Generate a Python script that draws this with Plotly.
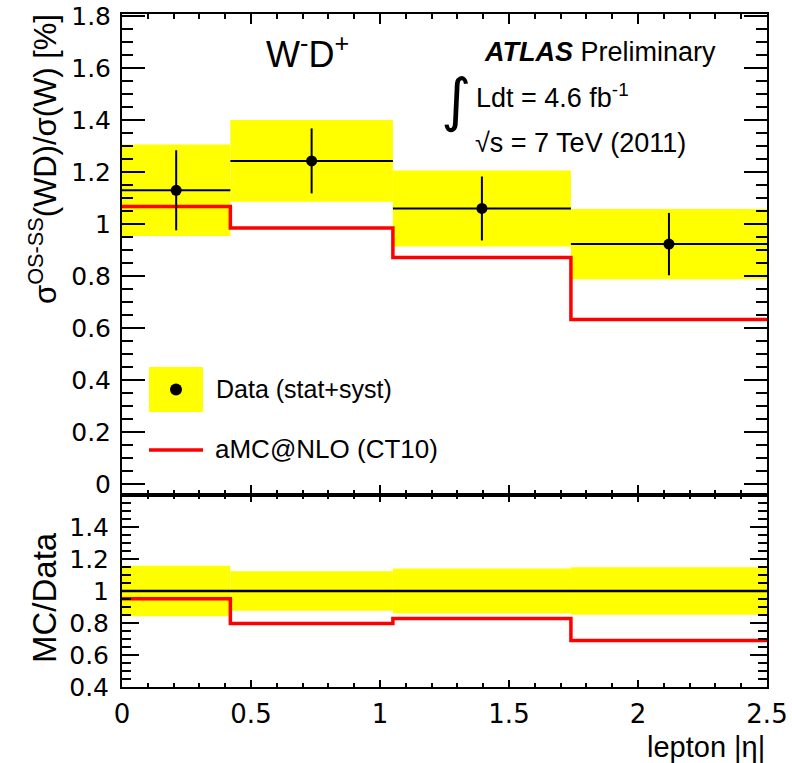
import plotly.graph_objects as go

# ---------------- data ----------------
bin_edges = [0.0, 0.42, 1.05, 1.74, 2.5]
data_vals = [1.13, 1.243, 1.06, 0.923]
data_err = [0.154, 0.125, 0.123, 0.12]       # error bars (stat+syst)
band_err = [0.176, 0.157, 0.146, 0.135]      # yellow band half-height
mc_vals = [1.068, 0.985, 0.871, 0.633]       # aMC@NLO (CT10)
ratio_band_err = [0.158, 0.123, 0.140, 0.148]
ratio_mc = [0.952, 0.797, 0.828, 0.690]

x_tick_vals = [0, 0.5, 1, 1.5, 2, 2.5]
top_y_ticks = [0, 0.2, 0.4, 0.6, 0.8, 1.0, 1.2, 1.4, 1.6, 1.8]
bot_y_ticks = [0.4, 0.6, 0.8, 1.0, 1.2, 1.4]

centers = [(a + b) / 2 for a, b in zip(bin_edges[:-1], bin_edges[1:])]
widths = [b - a for a, b in zip(bin_edges[:-1], bin_edges[1:])]
half_w = [w / 2 for w in widths]

# ---------------- geometry helpers ----------------
W, H = 792, 763
ML, MR, MT, MB = 122, 25, 14, 76
PW, PH = W - ML - MR, H - MT - MB


def px(xp):
    return (xp - ML) / PW


def py(yp):
    return (H - MB - yp) / PH


split = py(495)

YELLOW = "#ffff00"
RED = "#ff0000"
TICKFONT = dict(family="DejaVu Sans", size=25, color="black")
TEXTFONT = "Liberation Sans"

fig = go.Figure()

# ---------------- top panel ----------------
fig.add_trace(go.Bar(
    x=centers, y=[2 * e for e in band_err],
    base=[v - e for v, e in zip(data_vals, band_err)],
    width=widths, marker=dict(color=YELLOW, line=dict(width=0)),
    xaxis="x", yaxis="y", showlegend=False, hoverinfo="skip"))

fig.add_trace(go.Scatter(
    x=bin_edges, y=mc_vals + [mc_vals[-1]], mode="lines",
    line=dict(color=RED, width=3.5, shape="hv"),
    xaxis="x", yaxis="y", showlegend=False))

fig.add_trace(go.Scatter(
    x=centers, y=data_vals, mode="markers",
    marker=dict(color="black", size=11),
    error_y=dict(type="data", array=data_err, color="black", thickness=2, width=0),
    error_x=dict(type="data", array=half_w, color="black", thickness=2, width=0),
    xaxis="x", yaxis="y", showlegend=False))

# ---------------- bottom (ratio) panel ----------------
fig.add_trace(go.Bar(
    x=centers, y=[2 * e for e in ratio_band_err],
    base=[1 - e for e in ratio_band_err],
    width=widths, marker=dict(color=YELLOW, line=dict(width=0)),
    xaxis="x2", yaxis="y2", showlegend=False, hoverinfo="skip"))

fig.add_trace(go.Scatter(
    x=[bin_edges[0], bin_edges[-1]], y=[1, 1], mode="lines",
    line=dict(color="black", width=2.5),
    xaxis="x2", yaxis="y2", showlegend=False))

fig.add_trace(go.Scatter(
    x=bin_edges, y=ratio_mc + [ratio_mc[-1]], mode="lines",
    line=dict(color=RED, width=3.5, shape="hv"),
    xaxis="x2", yaxis="y2", showlegend=False))

axis_common = dict(showline=True, linecolor="black", linewidth=2, mirror="allticks",
                   ticks="inside", tickcolor="black", tickwidth=1.5,
                   showgrid=False, zeroline=False, automargin=False)

fig.update_layout(
    width=W, height=H,
    margin=dict(l=ML, r=MR, t=MT, b=MB, pad=0, autoexpand=False),
    paper_bgcolor="white", plot_bgcolor="white",
    barmode="overlay", showlegend=False,
    xaxis=dict(domain=[0, 1], range=[0, 2.5], anchor="y", tickvals=x_tick_vals,
               showticklabels=False, ticklen=10,
               minor=dict(dtick=0.1, tick0=0, ticklen=5, ticks="inside", tickcolor="black", tickwidth=1.5),
               **axis_common),
    yaxis=dict(domain=[split, 1], range=[-0.042, 1.808], anchor="x", tickvals=top_y_ticks,
               ticktext=["0", "0.2", "0.4", "0.6", "0.8", "1", "1.2", "1.4", "1.6", "1.8"],
               ticklen=23, tickfont=TICKFONT, ticklabelstandoff=4,
               minor=dict(dtick=0.05, tick0=0, ticklen=11, ticks="inside", tickcolor="black", tickwidth=1.5),
               **axis_common),
    xaxis2=dict(domain=[0, 1], range=[0, 2.5], anchor="y2", tickvals=x_tick_vals,
                ticktext=["0", "0.5", "1", "1.5", "2", "2.5"],
                ticklen=7, tickfont=dict(family="DejaVu Sans", size=26, color="black"),
                ticklabelstandoff=3,
                minor=dict(dtick=0.1, tick0=0, ticklen=4, ticks="inside", tickcolor="black", tickwidth=1.5),
                **axis_common),
    yaxis2=dict(domain=[0, split], range=[0.4, 1.6], anchor="x2", tickvals=bot_y_ticks,
                ticktext=["0.4", "0.6", "0.8", "1", "1.2", "1.4"],
                ticklen=17, tickfont=TICKFONT, ticklabelstandoff=6,
                minor=dict(dtick=0.05, tick0=0, ticklen=9, ticks="inside", tickcolor="black", tickwidth=1.5),
                **axis_common),
)

# ---------------- texts ----------------
ann = []
ann.append(dict(x=px(43), y=py(12), xref="paper", yref="paper", xanchor="center", yanchor="top",
                text="σ<sup>OS-SS</sup>(WD)/σ(W) [%]", textangle=-90, showarrow=False,
                font=dict(family=TEXTFONT, size=31, color="black")))
ann.append(dict(x=px(44), y=py(598), xref="paper", yref="paper", xanchor="center", yanchor="middle",
                text="MC/Data", textangle=-90, showarrow=False,
                font=dict(family=TEXTFONT, size=33, color="black")))
ann.append(dict(x=px(767), y=py(747), xref="paper", yref="paper", xanchor="right", yanchor="middle",
                text="lepton |η|", showarrow=False,
                font=dict(family=TEXTFONT, size=29, color="black")))
ann.append(dict(x=px(307), y=py(52), xref="paper", yref="paper", xanchor="center", yanchor="middle",
                text="W<sup>-</sup>D<sup>+</sup>", showarrow=False,
                font=dict(family=TEXTFONT, size=36, color="black")))
ann.append(dict(x=px(482), y=py(52), xref="paper", yref="paper", xanchor="left", yanchor="middle",
                text="<b><i>ATLAS</i></b> Preliminary", showarrow=False,
                font=dict(family=TEXTFONT, size=27, color="black")))
ann.append(dict(x=px(456), y=py(100), xref="paper", yref="paper", xanchor="center", yanchor="middle",
                text="∫", showarrow=False,
                font=dict(family="DejaVu Sans", size=58, color="black")))
ann.append(dict(x=px(474), y=py(96), xref="paper", yref="paper", xanchor="left", yanchor="middle",
                text="Ldt = 4.6 fb<sup>-1</sup>", showarrow=False,
                font=dict(family=TEXTFONT, size=27, color="black")))
ann.append(dict(x=px(473), y=py(143), xref="paper", yref="paper", xanchor="left", yanchor="middle",
                text="√s = 7 TeV (2011)", showarrow=False,
                font=dict(family=TEXTFONT, size=27, color="black")))
# legend texts
ann.append(dict(x=px(214), y=py(389), xref="paper", yref="paper", xanchor="left", yanchor="middle",
                text="Data (stat+syst)", showarrow=False,
                font=dict(family=TEXTFONT, size=25, color="black")))
ann.append(dict(x=px(213), y=py(449), xref="paper", yref="paper", xanchor="left", yanchor="middle",
                text="aMC@NLO (CT10)", showarrow=False,
                font=dict(family=TEXTFONT, size=26, color="black")))

shapes = [
    dict(type="rect", xref="paper", yref="paper", x0=px(149), x1=px(203), y0=py(412), y1=py(367),
         fillcolor=YELLOW, line=dict(width=0)),
    dict(type="circle", xref="paper", yref="paper", x0=px(170), x1=px(182), y0=py(395.5), y1=py(383.5),
         fillcolor="black", line=dict(width=0)),
    dict(type="line", xref="paper", yref="paper", x0=px(149), x1=px(203), y0=py(450), y1=py(450),
         line=dict(color=RED, width=3.5)),
]

fig.update_layout(annotations=ann, shapes=shapes)

fig.write_html("out.html")
